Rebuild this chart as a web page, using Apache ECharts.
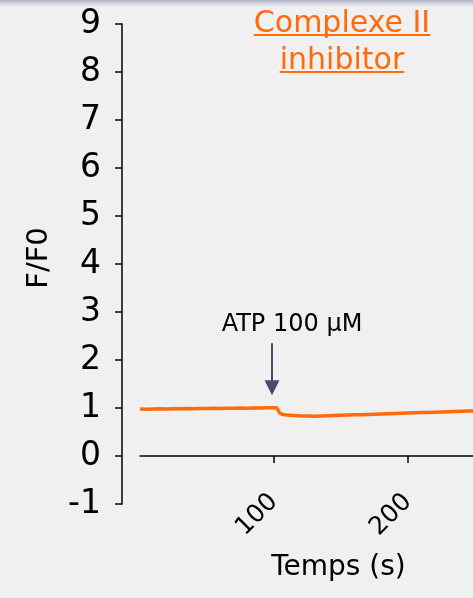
<!DOCTYPE html>
<html>
<head>
<meta charset="utf-8">
<script src="https://cdn.jsdelivr.net/npm/echarts@6/dist/echarts.min.js"></script>
<style>
html,body{margin:0;padding:0;background:#f0f0f0;}
#chart{width:473px;height:598px;}
</style>
</head>
<body>
<div id="chart"></div>
<script>
// Time (s) and F/F0 values
const times = [0, 5, 10, 15, 20, 25, 30, 35, 40, 45, 50, 55, 60, 65, 70, 75, 80, 85, 90, 95, 100, 102, 103, 104, 106, 108, 110, 115, 120, 125, 130, 135, 140, 145, 150, 155, 160, 165, 170, 175, 180, 185, 190, 195, 200, 205, 210, 215, 220, 225, 230, 235, 240, 245, 250];
const ratio = [0.98, 0.975, 0.98, 0.985, 0.98, 0.985, 0.985, 0.99, 0.985, 0.99, 0.99, 0.995, 0.99, 0.995, 0.995, 1.0, 0.995, 1.0, 1.0, 1.005, 1.005, 1.005, 0.96, 0.90, 0.87, 0.86, 0.855, 0.845, 0.835, 0.835, 0.83, 0.835, 0.84, 0.845, 0.85, 0.855, 0.86, 0.86, 0.865, 0.87, 0.875, 0.88, 0.885, 0.89, 0.895, 0.90, 0.905, 0.905, 0.91, 0.915, 0.92, 0.925, 0.93, 0.935, 0.94];
const xTickValues = [100, 200];
const yTickValues = [-1, 0, 1, 2, 3, 4, 5, 6, 7, 8, 9];
const titleLines = ['Complexe II', 'inhibitor'];
const stimulusLabel = 'ATP 100 \u03bcM';
const stimulusTime = 98.5;
const arrowFrom = 2.35;
const arrowTo = 1.42;

const FONT = 'DejaVu Sans';
const ORANGE = '#ff6a0d';
const X_MIN = 0, X_MAX = 248.5;
const Y_MIN = -1, Y_MAX = 9;

const chart = echarts.init(document.getElementById('chart'), null, {renderer: 'canvas'});

const measure = (txt, size) => {
  const c = document.createElement('canvas').getContext('2d');
  c.font = size + 'px "' + FONT + '"';
  return c.measureText(txt).width;
};
const titleSize = 30;
const titleCx = 342;
const titleBase = [32, 69];
const graphics = [
  {type: 'rect', shape: {x: 0, y: 0, width: 473, height: 7}, z: 100,
   style: {fill: new echarts.graphic.LinearGradient(0, 0, 0, 1, [
     {offset: 0, color: '#a9adc6'}, {offset: 1, color: 'rgba(200,203,220,0)'}])}}
];
titleLines.forEach((t, i) => {
  const w = measure(t, titleSize);
  graphics.push({type: 'text', z: 100,
    style: {text: t, x: titleCx, y: titleBase[i] + 7, align: 'center', verticalAlign: 'bottom',
            fill: ORANGE, font: titleSize + 'px "' + FONT + '"'}});
  graphics.push({type: 'line', z: 100,
    shape: {x1: titleCx - w / 2, y1: titleBase[i] + 3, x2: titleCx + w / 2, y2: titleBase[i] + 3},
    style: {stroke: ORANGE, lineWidth: 2}});
});

// Plot area: y from -1 (bottom) to 9 (top); 48 px per unit.
const gridTop = 24, gridBottom = 94;
const plotH = 598 - gridTop - gridBottom;
// second grid whose bottom edge sits at y = 0 of the main grid, to carry the time axis
const zeroBottom = gridBottom + plotH * (0 - Y_MIN) / (Y_MAX - Y_MIN);

chart.setOption({
  backgroundColor: '#f0f0f0',
  animation: false,
  grid: [
    {left: 140, right: 0, top: gridTop, bottom: gridBottom, containLabel: false, outerBoundsMode: 'none'},
    {left: 140, right: 0, top: gridTop, bottom: zeroBottom, containLabel: false, outerBoundsMode: 'none'}
  ],
  graphic: graphics,
  xAxis: [{
    gridIndex: 0, type: 'value', min: X_MIN, max: X_MAX, show: false
  }, {
    gridIndex: 1, type: 'value', min: X_MIN, max: X_MAX, position: 'bottom',
    axisLine: {show: true, onZero: false, lineStyle: {color: '#000', width: 1.5}},
    axisTick: {show: true, length: 7, customValues: xTickValues, lineStyle: {color: '#000', width: 1.5}},
    axisLabel: {customValues: xTickValues, rotate: 45, margin: 42, color: '#000',
                fontFamily: FONT, fontSize: 25},
    splitLine: {show: false},
    name: 'Temps (s)', nameLocation: 'middle', nameGap: 98, nameMoveOverlap: false,
    nameTextStyle: {color: '#000', fontFamily: FONT, fontSize: 28, padding: [0, 0, 0, 64]}
  }],
  yAxis: [{
    gridIndex: 0, type: 'value', min: Y_MIN, max: Y_MAX, interval: 1, offset: 18,
    axisLine: {show: true, onZero: false, lineStyle: {color: '#000', width: 1.5}},
    axisTick: {show: true, length: 7, lineStyle: {color: '#000', width: 1.5}},
    axisLabel: {margin: 21, color: '#000', fontFamily: FONT, fontSize: 33,
                customValues: yTickValues},
    splitLine: {show: false},
    name: 'F/F0', nameLocation: 'middle', nameGap: 68, nameMoveOverlap: false,
    nameTextStyle: {color: '#000', fontFamily: FONT, fontSize: 29, padding: [0, 0, 0, 12]}
  }, {
    gridIndex: 1, type: 'value', min: 0, max: Y_MAX, show: false
  }],
  series: [{
    type: 'line',
    xAxisIndex: 0, yAxisIndex: 0,
    data: times.map((t, i) => [t, ratio[i]]),
    showSymbol: false,
    lineStyle: {color: ORANGE, width: 3.5},
    clip: true,
    markLine: {
      silent: true,
      symbol: ['none', 'triangle'],
      symbolSize: 15,
      lineStyle: {color: '#4b4b6e', width: 2, type: 'solid'},
      label: {show: true, position: 'start', formatter: stimulusLabel, distance: 6,
              padding: [0, 0, 0, 40],
              color: '#000', fontFamily: FONT, fontSize: 24},
      data: [[{coord: [stimulusTime, arrowFrom]}, {coord: [stimulusTime, arrowTo]}]]
    }
  }]
});
</script>
</body>
</html>
